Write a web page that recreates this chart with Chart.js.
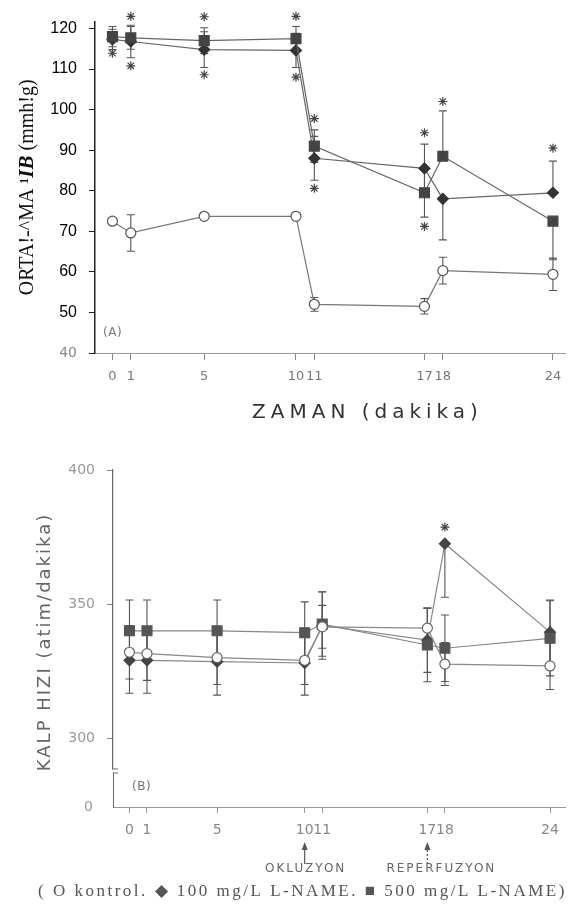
<!DOCTYPE html>
<html>
<head>
<meta charset="utf-8">
<script src="https://cdn.jsdelivr.net/npm/chart.js@4.4.1/dist/chart.umd.min.js"></script>
<style>
  html, body { margin: 0; padding: 0; background: #fff; }
  #wrap { position: relative; width: 574px; height: 914px; }
  canvas { position: absolute; left: 0; }
  #mapChart { top: 0; }
  #hrChart { top: 430px; }
</style>
</head>
<body>
<div id="wrap">
  <canvas id="mapChart" width="574" height="430"></canvas>
  <canvas id="hrChart" width="574" height="484"></canvas>
</div>
<script>
// zaman noktalari (dakika)
const minutes = [0, 1, 5, 10, 11, 17, 18, 24];

// (A) ortalama arter basinci, mmHg  (sem: sayi = iki yonlu, [asagi, yukari] = tek yonlu)
const mapKontrol = [72.5, 69.6, 73.7, 73.7, 52.0, 51.5, 60.3, 59.4];
const mapKontrolSem = [0.8, 4.5, 0.8, 0.8, 1.7, 1.9, 3.3, 4.0];
const map500 = [118.0, 117.7, 117.0, 117.5, 91.0, 79.5, 88.5, 72.5];
const map500Sem = [2.5, 2.8, 3.2, 3.0, 4.0, 6.0, [0, 11.2], [9.5, 0]];
const map100 = [117.3, 116.8, 114.8, 114.6, 88.0, 85.5, 78.0, 79.5];
const map100Sem = [2.5, 4.0, 4.4, 4.2, 5.4, 6.0, [10.1, 0], [0, 7.8]];
const mapStarMin = [0, 0, 1, 1, 5, 5, 10, 10, 11, 11, 17, 17, 18, 24];
const mapStarVal = [123.7, 113.9, 123.0, 110.8, 122.9, 108.6, 123.0, 108.0, 97.8, 80.6, 94.3, 71.2, 102.0, 90.5];
const mapTicks = [40, 50, 60, 70, 80, 90, 100, 110, 120];

// (B) kalp hizi, atim/dakika
const hrKontrol = [332.0, 331.5, 330.0, 329.0, 341.5, 341.0, 327.6, 326.9];
const hrKontrolSem = [10, 10, 10, 9, 8, 7.5, 8, 8.8];
const hr500 = [340.0, 340.0, 340.0, 339.3, 342.5, 334.7, 333.5, 337.2];
const hr500Sem = [11.5, 11.5, 11.5, 11.5, 12, 13.7, 12.4, 14];
const hr100 = [329.0, 329.0, 328.5, 328.0, 342.0, 336.5, 372.5, 339.5];
const hr100Sem = [12.3, 12.3, 12.5, 12, 12.6, 12, [20, 0], 12];
const hrStarMin = [18];
const hrStarVal = [378.7];
const hrTicks = [300, 350, 400];
const hrLowTicks = [0];

const pts = (xs, ys) => xs.map((x, i) => ({ x: x, y: ys[i] }));

function drawText(ctx, txt, x, y, font, color, align, spacing, rot) {
  ctx.save();
  ctx.translate(x, y);
  if (rot) ctx.rotate(rot);
  ctx.font = font;
  ctx.fillStyle = color;
  ctx.letterSpacing = (spacing || 0) + 'px';
  ctx.textAlign = align || 'center';
  ctx.textBaseline = 'middle';
  ctx.fillText(txt, align === 'left' ? 0 : (spacing || 0) / 2, 0);
  ctx.restore();
}

// hata cubuklari (SEM)
const errorBars = {
  id: 'errorBars',
  beforeDatasetsDraw(chart) {
    const ctx = chart.ctx;
    chart.data.datasets.forEach((ds, i) => {
      if (!ds.sem) return;
      const meta = chart.getDatasetMeta(i);
      const xs = chart.scales[meta.xAxisID];
      const ys = chart.scales[meta.yAxisID];
      ctx.save();
      ctx.strokeStyle = ds.errColor;
      ctx.lineWidth = 1.1;
      ds.data.forEach((p, j) => {
        const e = ds.sem[j];
        const dn = Array.isArray(e) ? e[0] : e;
        const up = Array.isArray(e) ? e[1] : e;
        const x = xs.getPixelForValue(p.x);
        const y0 = ys.getPixelForValue(p.y - dn);
        const y1 = ys.getPixelForValue(p.y + up);
        ctx.beginPath();
        ctx.moveTo(x, y0);
        ctx.lineTo(x, y1);
        if (dn > 0) { ctx.moveTo(x - 4, y0); ctx.lineTo(x + 4, y0); }
        if (up > 0) { ctx.moveTo(x - 4, y1); ctx.lineTo(x + 4, y1); }
        ctx.stroke();
      });
      ctx.restore();
    });
  }
};

function series(data, sem, style, color, radius, lineColor) {
  return {
    data: data, sem: sem, errColor: '#555',
    borderColor: lineColor, borderWidth: 1.2,
    pointStyle: style, pointRadius: radius,
    pointBackgroundColor: style === 'circle' ? '#fff' : color,
    pointBorderColor: color, pointBorderWidth: 1.2,
    tension: 0, clip: false
  };
}

function stars(data) {
  return {
    data: data, showLine: false, pointStyle: 'star', pointRadius: 4.5,
    pointBorderColor: '#444', pointBorderWidth: 1.2, clip: false
  };
}

// ---------- (A) ----------
const textA = {
  id: 'textA',
  afterDraw(chart) {
    const ctx = chart.ctx;
    const a = chart.chartArea;
    // y ekseni basligi, parca parca
    const segs = [
      ['ORTA!-^MA \u00b9', '20px "Liberation Serif"'],
      ['IB', 'italic bold 21px "Liberation Serif"'],
      [' (mmh!g)', '20px "Liberation Serif"']
    ];
    ctx.save();
    ctx.translate(28, (a.top + a.bottom) / 2);
    ctx.rotate(-Math.PI / 2);
    ctx.fillStyle = '#111';
    ctx.textBaseline = 'middle';
    let w = 0;
    segs.forEach(s => { ctx.font = s[1]; w += ctx.measureText(s[0]).width; });
    let x = -w / 2;
    segs.forEach(s => { ctx.font = s[1]; ctx.fillText(s[0], x, 0); x += ctx.measureText(s[0]).width; });
    ctx.restore();

    drawText(ctx, 'ZAMAN (dakika)', 365, 413, '20px "DejaVu Sans"', '#333', 'center', 5);
    drawText(ctx, '(A)', a.left + 8, a.bottom - 20, '12px "DejaVu Sans"', '#777', 'left', 0.5);
  }
};

new Chart(document.getElementById('mapChart'), {
  type: 'line',
  data: {
    datasets: [
      series(pts(minutes, mapKontrol), mapKontrolSem, 'circle', '#555', 5, '#777'),
      series(pts(minutes, map500), map500Sem, 'rect', '#444', 7, '#666'),
      series(pts(minutes, map100), map100Sem, 'rectRot', '#333', 5.5, '#666'),
      stars(pts(mapStarMin, mapStarVal))
    ]
  },
  options: {
    responsive: false,
    animation: false,
    layout: { padding: { top: 15, right: 1, left: 0, bottom: 0 } },
    plugins: { legend: { display: false }, tooltip: { enabled: false } },
    scales: {
      x: {
        type: 'linear', min: -0.95, max: 24.7,
        afterBuildTicks: s => { s.ticks = minutes.map(v => ({ value: v })); },
        afterFit: s => { s.height = 77; },
        border: { color: '#999', width: 1 },
        grid: { drawOnChartArea: false, tickLength: 7, color: '#888' },
        ticks: {
          autoSkip: false, maxRotation: 0, padding: 9,
          color: '#777', font: { family: 'DejaVu Sans', size: 13 }
        }
      },
      y: {
        type: 'linear', min: 40, max: 121.7,
        afterBuildTicks: s => { s.ticks = mapTicks.map(v => ({ value: v })); },
        afterFit: s => { s.width = 95; },
        border: { color: '#222', width: 1.5 },
        grid: { drawOnChartArea: false, tickLength: 6, color: '#222' },
        ticks: {
          padding: 12,
          color: c => (c.tick && c.tick.value === 40 ? '#888' : '#000'),
          font: c => (c.tick && c.tick.value === 40
            ? { family: 'DejaVu Sans', size: 14 }
            : { family: 'Liberation Sans', size: 16 })
        }
      }
    }
  },
  plugins: [errorBars, textA]
});

// ---------- (B) ----------
const textB = {
  id: 'textB',
  afterDraw(chart) {
    const ctx = chart.ctx;
    const a = chart.chartArea;
    const xs = chart.scales.x;
    const up = chart.scales.y;

    // eksen kirigi
    const yb = up.bottom;
    ctx.save();
    ctx.fillStyle = '#fff';
    ctx.fillRect(a.left - 2, yb - 1.5, 4, 3);
    ctx.strokeStyle = '#666';
    ctx.lineWidth = 1;
    ctx.beginPath();
    ctx.moveTo(a.left, yb - 2); ctx.lineTo(a.left + 5, yb - 2);
    ctx.moveTo(a.left, yb + 2); ctx.lineTo(a.left + 5, yb + 2);
    ctx.stroke();
    ctx.restore();

    drawText(ctx, 'KALP HIZI (atim/dakika)', 45, 213, '18px "DejaVu Sans"', '#666', 'center', 2, -Math.PI / 2);
    drawText(ctx, '(B)', a.left + 19, a.bottom - 20, '12px "DejaVu Sans"', '#777', 'left', 0.5);

    // oklar
    const arrow = (x, dashed) => {
      ctx.save();
      ctx.strokeStyle = '#555';
      ctx.fillStyle = '#555';
      ctx.lineWidth = 1.2;
      if (dashed) ctx.setLineDash([2, 2]);
      ctx.beginPath(); ctx.moveTo(x, 434); ctx.lineTo(x, 418); ctx.stroke();
      ctx.setLineDash([]);
      ctx.beginPath(); ctx.moveTo(x, 412); ctx.lineTo(x - 3, 420); ctx.lineTo(x + 3, 420); ctx.closePath(); ctx.fill();
      ctx.restore();
    };
    const x10 = xs.getPixelForValue(10);
    const x17 = xs.getPixelForValue(17);
    arrow(x10, false);
    arrow(x17, true);
    drawText(ctx, 'OKLUZYON', x10, 439, '12px "DejaVu Sans"', '#666', 'center', 2);
    drawText(ctx, 'REPERFUZYON', x17 + 13, 439, '12px "DejaVu Sans"', '#666', 'center', 2);
    drawText(ctx, '( O kontrol. \u25c6 100 mg/L L-NAME. \u25a0 500 mg/L L-NAME)', 38, 462,
      '17px "Liberation Serif"', '#555', 'left', 2.5);
  }
};

const onUpper = ds => Object.assign(ds, { yAxisID: 'y' });

new Chart(document.getElementById('hrChart'), {
  type: 'line',
  data: {
    datasets: [
      onUpper(series(pts(minutes, hrKontrol), hrKontrolSem, 'circle', '#666', 5, '#888')),
      onUpper(series(pts(minutes, hr500), hr500Sem, 'rect', '#555', 7, '#888')),
      onUpper(series(pts(minutes, hr100), hr100Sem, 'rectRot', '#444', 5.5, '#888')),
      onUpper(stars(pts(hrStarMin, hrStarVal)))
    ]
  },
  options: {
    responsive: false,
    animation: false,
    layout: { padding: { top: 40, right: 7, left: 0, bottom: 0 } },
    plugins: { legend: { display: false }, tooltip: { enabled: false } },
    scales: {
      x: {
        type: 'linear', min: -0.94, max: 24.9,
        afterBuildTicks: s => { s.ticks = minutes.map(v => ({ value: v })); },
        afterFit: s => { s.height = 107; },
        border: { color: '#999', width: 1 },
        grid: { drawOnChartArea: false, tickLength: 6, color: '#999' },
        ticks: {
          autoSkip: false, maxRotation: 0, padding: 9,
          color: '#888', font: { family: 'DejaVu Sans', size: 14 }
        }
      },
      yLow: {
        type: 'linear', position: 'left', min: 0, max: 10,
        stack: 'hr', stackWeight: 36,
        afterBuildTicks: s => { s.ticks = hrLowTicks.map(v => ({ value: v })); },
        afterFit: s => { s.width = 113; },
        border: { color: '#666', width: 1 },
        grid: { drawOnChartArea: false, tickLength: 6, color: 'rgba(0,0,0,0)' },
        ticks: { padding: 14, color: '#999', font: { family: 'DejaVu Sans', size: 14 } }
      },
      y: {
        type: 'linear', position: 'left', min: 287.7, max: 400,
        stack: 'hr', stackWeight: 301,
        afterBuildTicks: s => { s.ticks = hrTicks.map(v => ({ value: v })); },
        afterFit: s => { s.width = 113; },
        border: { color: '#666', width: 1.2 },
        grid: { drawOnChartArea: false, tickLength: 6, color: '#888' },
        ticks: { padding: 12, color: '#999', font: { family: 'DejaVu Sans', size: 14 } }
      }
    }
  },
  plugins: [errorBars, textB]
});
</script>
</body>
</html>
